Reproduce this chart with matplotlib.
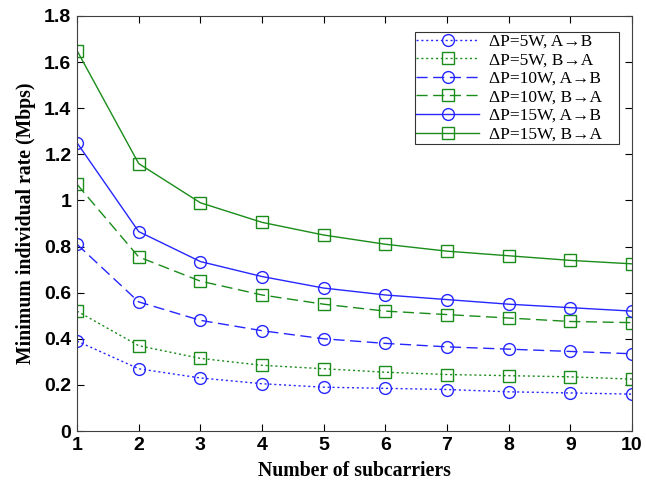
import numpy as np
import matplotlib.pyplot as plt

plt.rcParams['font.family'] = ['Liberation Serif', 'DejaVu Serif']

subcarriers = np.arange(1, 11)
p5_ab = [0.39, 0.27, 0.23, 0.205, 0.19, 0.185, 0.18, 0.17, 0.165, 0.16]
p5_ba = [0.52, 0.37, 0.315, 0.285, 0.27, 0.255, 0.245, 0.24, 0.235, 0.225]
p10_ab = [0.81, 0.56, 0.48, 0.435, 0.40, 0.38, 0.365, 0.355, 0.345, 0.335]
p10_ba = [1.07, 0.755, 0.65, 0.59, 0.55, 0.52, 0.505, 0.49, 0.475, 0.47]
p15_ab = [1.25, 0.865, 0.735, 0.67, 0.62, 0.59, 0.57, 0.55, 0.535, 0.52]
p15_ba = [1.65, 1.16, 0.99, 0.905, 0.85, 0.81, 0.78, 0.76, 0.74, 0.725]

blue = (0.15, 0.15, 1.0)
green = (0.1, 0.55, 0.1)

series = [
    (p5_ab, blue, (0, (1.5, 2)), 'o', '\u0394P=5W, A\u2192B'),
    (p5_ba, green, (0, (1.5, 2)), 's', '\u0394P=5W, B\u2192A'),
    (p10_ab, blue, (0, (8, 4)), 'o', '\u0394P=10W, A\u2192B'),
    (p10_ba, green, (0, (8, 4)), 's', '\u0394P=10W, B\u2192A'),
    (p15_ab, blue, '-', 'o', '\u0394P=15W, A\u2192B'),
    (p15_ba, green, '-', 's', '\u0394P=15W, B\u2192A'),
]

fig = plt.figure(figsize=(6.46, 4.9), dpi=100)
ax = fig.add_axes([0.1192, 0.1204, 0.859, 0.847])

for vals, col, ls, mk, lab in series:
    ax.plot(subcarriers, vals, color=col, linestyle=ls, linewidth=1.0,
            marker=mk, markersize=8.5, markerfacecolor='none',
            markeredgecolor=col, markeredgewidth=1.0, label=lab)

ax.set_xlim(1, 10)
ax.set_ylim(0, 1.8)
ax.set_xticks(subcarriers)
ax.set_yticks(np.arange(0, 1.81, 0.2))
ax.set_yticklabels(['0', '0.2', '0.4', '0.6', '0.8', '1', '1.2', '1.4', '1.6', '1.8'])
ax.tick_params(direction='in', top=True, right=True, length=5, labelsize=14, pad=4)
for lbl in ax.get_xticklabels() + ax.get_yticklabels():
    lbl.set_fontweight('bold')
    lbl.set_family(['Liberation Sans', 'DejaVu Sans'])
for sp in ax.spines.values():
    sp.set_color('#404040')

ax.set_xlabel('Number of subcarriers', fontsize=14.2, fontweight='bold', labelpad=5)
ax.set_ylabel('Minimum individual rate (Mbps)', fontsize=14.2, fontweight='bold', labelpad=6)

leg = ax.legend(loc='upper left', bbox_to_anchor=(0.609, 0.696, 0.3676, 0.265),
                mode='expand', fontsize=12.5, frameon=True, fancybox=False,
                edgecolor='black', handlelength=3.6, borderpad=0.08,
                labelspacing=0.14, handletextpad=0.6, borderaxespad=0.0)
leg.get_frame().set_linewidth(0.8)

fig.savefig('out.png', dpi=100)
